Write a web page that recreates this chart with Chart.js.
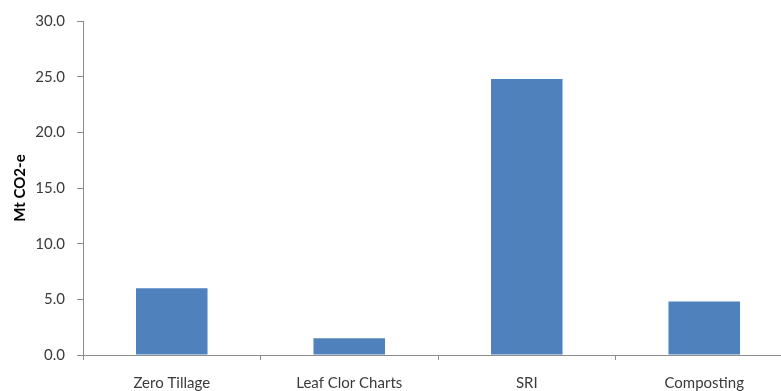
<!DOCTYPE html>
<html>
<head>
<meta charset="utf-8">
<script src="https://cdn.jsdelivr.net/npm/chart.js@4"></script>
<style>
  html, body { margin: 0; padding: 0; background: #fff; overflow: hidden; }
  #wrap { position: relative; width: 800px; height: 391px; }
</style>
</head>
<body>
<div id="wrap"><canvas id="c"></canvas></div>
<script>
// Mitigation options and their abatement potential (Mt CO2-e)
const categories = ['Zero Tillage', 'Leaf Clor Charts', 'SRI', 'Composting'];
const abatement = [6.0, 1.5, 24.8, 4.8];
const yTicks = [0, 5, 10, 15, 20, 25, 30];

const axisColor = '#8c8c8c';
const textColor = '#3a3a3a';
const fontFamily = 'Lato, "Open Sans", "Liberation Sans", sans-serif';

new Chart(document.getElementById('c'), {
  type: 'bar',
  data: {
    labels: categories,
    datasets: [{
      data: abatement,
      backgroundColor: '#4f81bd',
      borderWidth: 0,
      categoryPercentage: 1.0,
      barPercentage: 0.403
    }]
  },
  options: {
    responsive: true,
    maintainAspectRatio: false,
    animation: false,
    layout: { padding: { top: 20, right: 7, left: 0, bottom: 0 } },
    plugins: { legend: { display: false }, tooltip: { enabled: false } },
    scales: {
      x: {
        grid: {
          offset: true,
          drawOnChartArea: false,
          drawTicks: true,
          tickLength: 5,
          color: axisColor
        },
        border: { color: axisColor, width: 1 },
        ticks: {
          color: textColor,
          padding: 14,
          maxRotation: 0,
          font: { family: fontFamily, size: 15 }
        },
        afterFit: (scale) => { scale.height = 36; }
      },
      y: {
        min: 0,
        max: 30,
        afterBuildTicks: (scale) => { scale.ticks = yTicks.map(v => ({ value: v })); },
        grid: {
          drawOnChartArea: false,
          drawTicks: true,
          tickLength: 6,
          color: axisColor
        },
        border: { color: axisColor, width: 1 },
        ticks: {
          color: textColor,
          padding: 12,
          font: { family: fontFamily, size: 15 },
          callback: (v) => Number(v).toFixed(1)
        },
        title: {
          display: true,
          text: 'Mt CO2-e',
          color: '#000',
          padding: { top: 11, bottom: 0 },
          font: { family: fontFamily, size: 15, weight: 'bold' }
        },
        afterFit: (scale) => { scale.width = 83; }
      }
    }
  }
});
</script>
</body>
</html>
